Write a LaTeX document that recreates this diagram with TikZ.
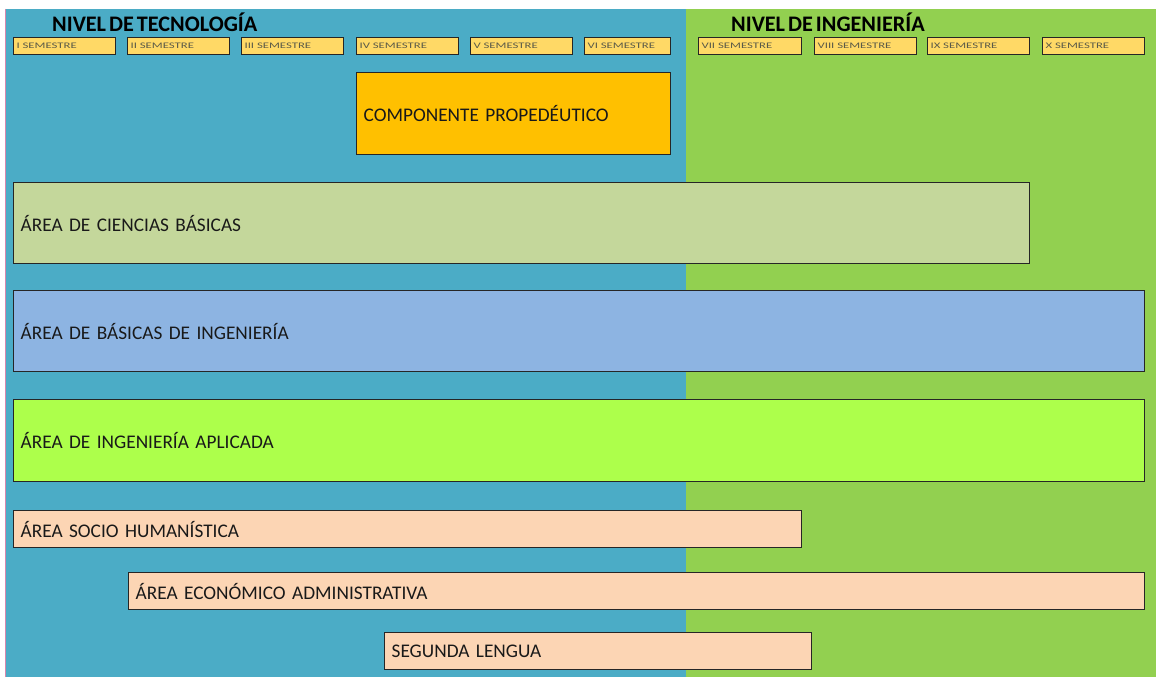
\documentclass[tikz,border=0pt]{standalone}
\usepackage{fontspec}
\setmainfont{Carlito}
\newfontfamily\semfont{Carlito}[FakeStretch=1.5]
\newfontfamily\areafont{Carlito}[WordSpace=0.6]
\newfontfamily\titlefont{Carlito}[WordSpace=0.6]
\definecolor{bluebg}{HTML}{4BACC6}
\definecolor{greenbg}{HTML}{92D050}
\definecolor{semfill}{HTML}{FFD966}
\definecolor{propfill}{HTML}{FFC000}
\definecolor{cbfill}{HTML}{C4D79B}
\definecolor{bifill}{HTML}{8DB4E2}
\definecolor{iafill}{HTML}{ADFF4B}
\definecolor{peach}{HTML}{FCD5B4}
\definecolor{semtext}{HTML}{5A5A48}
\definecolor{edge}{HTML}{262626}
\tikzset{
  areabox/.style={draw=edge, line width=1.3pt, anchor=north west, inner xsep=7pt, inner ysep=0pt, align=left, font=\areafont\fontsize{19.3}{21}\selectfont, text=black!90},
  sembox/.style={draw=edge, line width=1.1pt, fill=semfill, anchor=north west, minimum height=17pt, inner xsep=3pt, inner ysep=0pt, align=left, font=\semfont\fontsize{8.5}{9}\selectfont, text=semtext},
  title/.style={font=\titlefont\bfseries\fontsize{22.2}{24}\selectfont, anchor=west, inner sep=0pt}
}
\begin{document}
\begin{tikzpicture}[x=1pt,y=-1pt]
\useasboundingbox (0,0) rectangle (1157,677);
\fill[white] (0,0) rectangle (1157,677);
\fill[bluebg] (6,9) rectangle (686,677);
\fill[greenbg] (686,9) rectangle (1156,677);
\draw[pink!70!violet, line width=0.8pt] (5.5,9) -- (5.5,677);
\node[title] (tec) at (52,22) {NIVEL DE TECNOLOGÍA};
\node[title] (ing) at (731,22) {NIVEL DE INGENIERÍA};
% semesters
\node[sembox, minimum width=102pt, text width=96pt] (s1) at (13,37) {I SEMESTRE};
\node[sembox, minimum width=102pt, text width=96pt] (s2) at (127,37) {II SEMESTRE};
\node[sembox, minimum width=102pt, text width=96pt] (s3) at (241,37) {III SEMESTRE};
\node[sembox, minimum width=102pt, text width=96pt] (s4) at (356,37) {IV SEMESTRE};
\node[sembox, minimum width=102pt, text width=96pt] (s5) at (470,37) {V SEMESTRE};
\node[sembox, minimum width=86pt, text width=80pt] (s6) at (584,37) {VI SEMESTRE};
\node[sembox, minimum width=103pt, text width=97pt] (s7) at (698,37) {VII SEMESTRE};
\node[sembox, minimum width=102pt, text width=96pt] (s8) at (814,37) {VIII SEMESTRE};
\node[sembox, minimum width=102pt, text width=96pt] (s9) at (927,37) {IX SEMESTRE};
\node[sembox, minimum width=102pt, text width=96pt] (s10) at (1042,37) {X SEMESTRE};
% areas
\node[areabox, fill=propfill, minimum width=314pt, minimum height=82pt, text width=300pt] (prop) at (356,72) {COMPONENTE PROPEDÉUTICO};
\node[areabox, fill=cbfill, minimum width=1016pt, minimum height=81pt, text width=1002pt] (cb) at (13,182) {ÁREA DE CIENCIAS BÁSICAS};
\node[areabox, fill=bifill, minimum width=1131pt, minimum height=81pt, text width=1117pt] (bi) at (13,290) {ÁREA DE BÁSICAS DE INGENIERÍA};
\node[areabox, fill=iafill, minimum width=1131pt, minimum height=82pt, text width=1117pt] (ia) at (13,399) {ÁREA DE INGENIERÍA APLICADA};
\node[areabox, fill=peach, minimum width=788pt, minimum height=37pt, text width=774pt] (sh) at (13,510) {ÁREA SOCIO HUMANÍSTICA};
\node[areabox, fill=peach, minimum width=1016pt, minimum height=37pt, text width=1002pt] (ea) at (128,572) {ÁREA ECONÓMICO ADMINISTRATIVA};
\node[areabox, fill=peach, minimum width=427pt, minimum height=37pt, text width=413pt] (sl) at (384,632) {SEGUNDA LENGUA};
\end{tikzpicture}
\end{document}
